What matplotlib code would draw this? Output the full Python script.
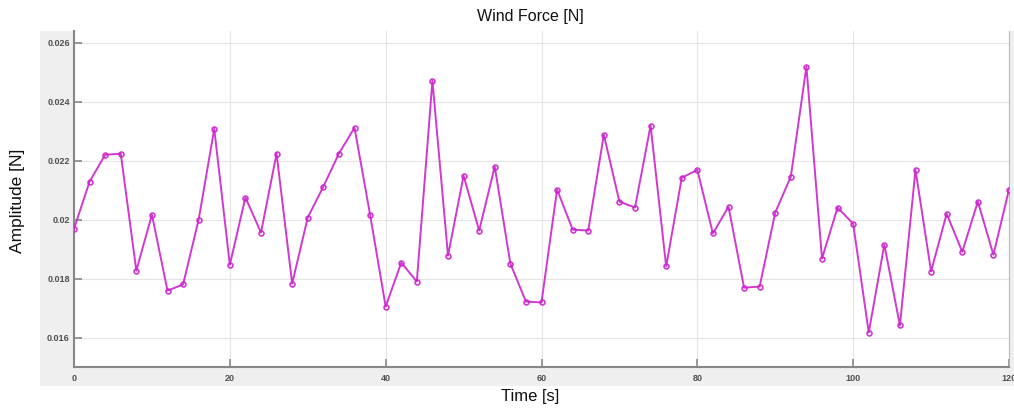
import numpy as np
import matplotlib
matplotlib.use('Agg')
import matplotlib.pyplot as plt
from matplotlib.patches import Rectangle

# ── Data ─────────────────────────────────────────────────────
time_s = [0, 2, 4, 6, 8, 10, 12, 14, 16, 18, 20, 22, 24, 26, 28, 30,
          32, 34, 36, 38, 40, 42, 44, 46, 48, 50, 52, 54, 56, 58, 60,
          62, 64, 66, 68, 70, 72, 74, 76, 78, 80, 82, 84, 86, 88, 90,
          92, 94, 96, 98, 100, 102, 104, 106, 108, 110, 112, 114, 116, 118, 120]
force_n = [0.01969, 0.02129, 0.02220, 0.02224, 0.01827, 0.02017, 0.01759, 0.01780,
           0.02000, 0.02308, 0.01847, 0.02075, 0.01956, 0.02224, 0.01783, 0.02007,
           0.02112, 0.02224, 0.02312, 0.02017, 0.01705, 0.01854, 0.01790, 0.02471,
           0.01878, 0.02149, 0.01963, 0.02180, 0.01851, 0.01722, 0.01719,
           0.02102, 0.01966, 0.01963, 0.02288, 0.02061, 0.02041, 0.02319, 0.01841,
           0.02142, 0.02169, 0.01953, 0.02044, 0.01769, 0.01773, 0.02024,
           0.02146, 0.02519, 0.01868, 0.02041, 0.01986, 0.01617, 0.01915, 0.01641,
           0.02169, 0.01824, 0.02020, 0.01891, 0.02061, 0.01881, 0.02102]
x_ticks = [0, 20, 40, 60, 80, 100, 120]
y_ticks = [0.016, 0.018, 0.02, 0.022, 0.024, 0.026]
y_tick_labels = ['0.016', '0.018', '0.02', '0.022', '0.024', '0.026']

MAGENTA = '#cc22cc'
PANEL = '#efefef'
TICKCOL = '#505050'

plt.rcParams['font.family'] = ['Liberation Sans', 'DejaVu Sans']

fig = plt.figure(figsize=(10.14, 4.08), dpi=100, facecolor='white')

# grey panel behind the axes
fig.patches.append(Rectangle((40 / 1014, 1 - 386 / 408), 1 - 40 / 1014, (386 - 31) / 408,
                             transform=fig.transFigure, facecolor=PANEL,
                             edgecolor='none', zorder=-5))

ax = fig.add_axes([74 / 1014, 1 - 367 / 408, (1009 - 74) / 1014, (367 - 31) / 408])
ax.set_facecolor('white')

ax.plot(time_s, force_n, color=MAGENTA, linewidth=1.4, alpha=0.9,
        marker='o', markersize=3.5, markerfacecolor='none',
        markeredgecolor=MAGENTA, markeredgewidth=1.2, zorder=3)

ax.set_xlim(0, 120)
ax.set_ylim(0.01500, 0.02640)
ax.set_xticks(x_ticks)
ax.set_yticks(y_ticks)
ax.set_yticklabels(y_tick_labels)
ax.grid(True, color='#e4e4e4', linewidth=0.8)
ax.set_axisbelow(True)

ax.tick_params(direction='in', length=6, width=1.2, color='#888888',
               labelsize=6.5, labelcolor=TICKCOL)
ax.tick_params(axis='y', pad=3)
ax.tick_params(axis='x', pad=5)
for lbl in ax.get_xticklabels() + ax.get_yticklabels():
    lbl.set_fontweight('bold')

ax.spines['top'].set_visible(False)
ax.spines['right'].set_color('#bbbbbb')
ax.spines['left'].set_color('#888888')
ax.spines['bottom'].set_color('#888888')
ax.spines['left'].set_linewidth(1.5)
ax.spines['bottom'].set_linewidth(1.5)

fig.text(530 / 1014, 1 - 16 / 408, 'Wind Force [N]', ha='center', va='center',
         fontsize=11.5, color='#111111')
fig.text(18 / 1014, 1 - 201 / 408, 'Amplitude [N]', ha='center', va='center',
         rotation=90, fontsize=12.5, color='#111111')
fig.text(530 / 1014, 1 - 397 / 408, 'Time [s]', ha='center', va='center',
         fontsize=12, color='#111111')

fig.savefig('out.png', dpi=100, facecolor='white')
